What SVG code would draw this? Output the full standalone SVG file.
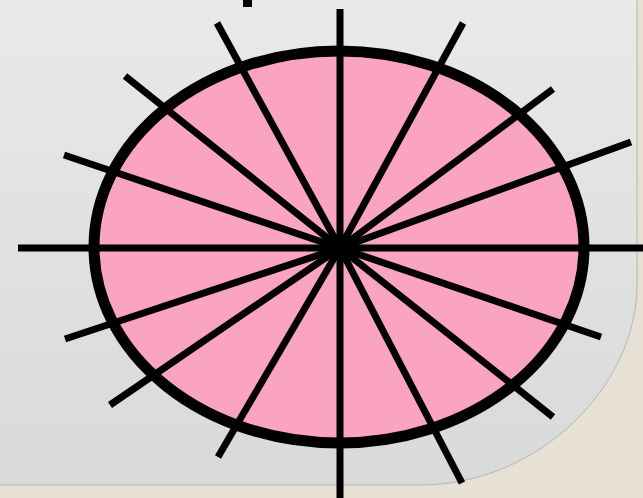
<svg xmlns="http://www.w3.org/2000/svg" width="643" height="498" viewBox="0 0 643 498">
  <defs>
    <linearGradient id="panel" x1="0" y1="0" x2="0" y2="1">
      <stop offset="0" stop-color="#e9e9e9"/>
      <stop offset="1" stop-color="#d8d9d9"/>
    </linearGradient>
    <style>
      .spoke { stroke: #000; stroke-width: 7; stroke-linecap: butt; fill: none; }
    </style>
  </defs>
  <rect width="643" height="498" fill="#e6e0d5"/>
  <path d="M0,0 H637 V285 C637,385 540,485 420,485 H0 Z" fill="url(#panel)"/>
  <path d="M637,0 V285 C637,385 540,485 420,485 H0" fill="none" stroke="#b9b6ad" stroke-width="1"/>
  <rect x="243" y="0" width="9" height="7" fill="#000"/>
  <g id="ellipse">
    <ellipse cx="339" cy="247" rx="245" ry="196" fill="#fba4c1" stroke="#000" stroke-width="11"/>
  </g>
  <g id="spokes">
    <line class="spoke" x1="340" y1="248" x2="340" y2="9"/>
    <line class="spoke" x1="340" y1="248" x2="340" y2="498"/>
    <line class="spoke" x1="340" y1="248" x2="18" y2="248"/>
    <line class="spoke" x1="340" y1="248" x2="643" y2="248"/>
    <line class="spoke" x1="340" y1="248" x2="217" y2="23"/>
    <line class="spoke" x1="340" y1="248" x2="463" y2="23"/>
    <line class="spoke" x1="340" y1="248" x2="125" y2="76"/>
    <line class="spoke" x1="340" y1="248" x2="553" y2="89"/>
    <line class="spoke" x1="340" y1="248" x2="64" y2="155"/>
    <line class="spoke" x1="340" y1="248" x2="631" y2="142"/>
    <line class="spoke" x1="340" y1="248" x2="65" y2="339"/>
    <line class="spoke" x1="340" y1="248" x2="601" y2="337"/>
    <line class="spoke" x1="340" y1="248" x2="110" y2="405"/>
    <line class="spoke" x1="340" y1="248" x2="553" y2="417"/>
    <line class="spoke" x1="340" y1="248" x2="218" y2="457"/>
    <line class="spoke" x1="340" y1="248" x2="462" y2="483"/>
  </g>
</svg>
